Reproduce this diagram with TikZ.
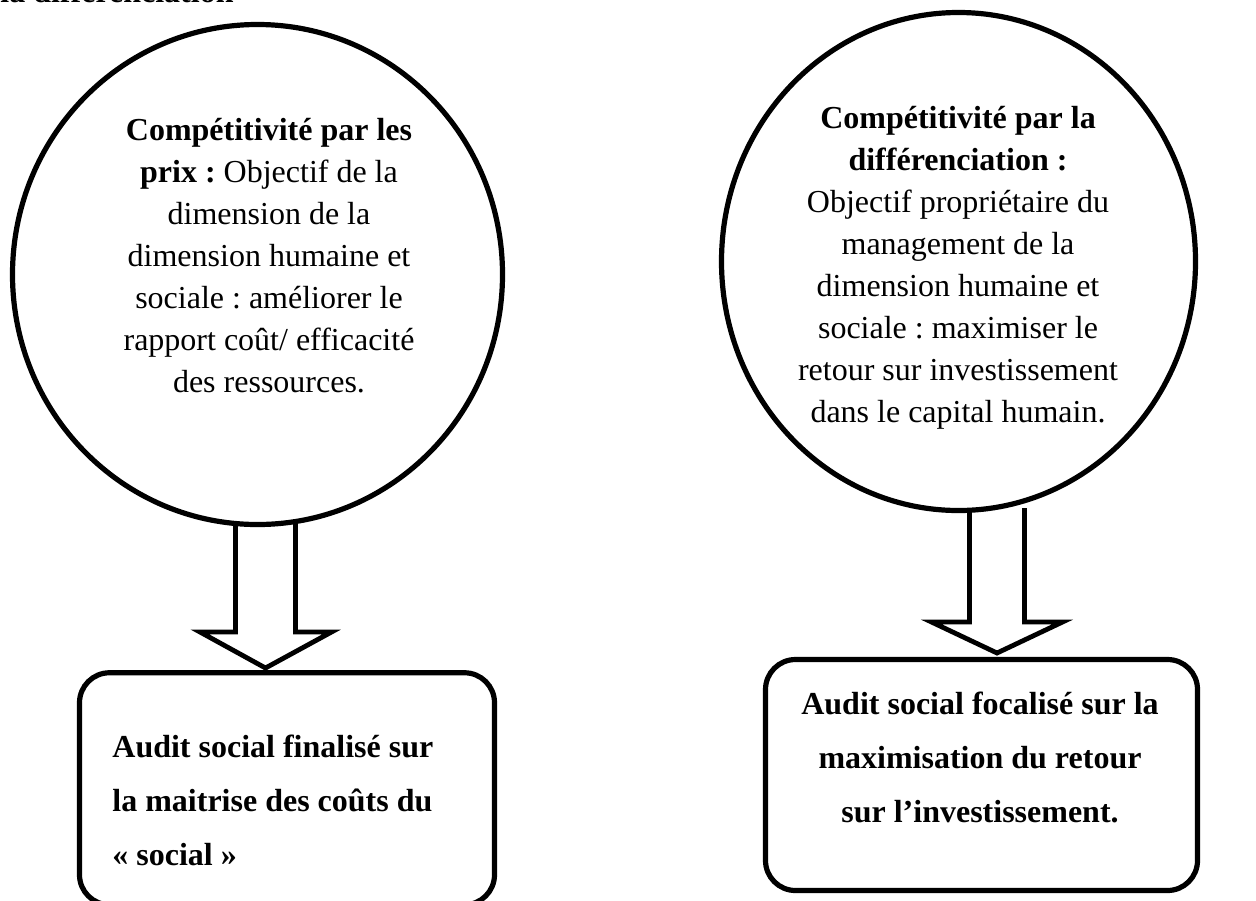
\documentclass[tikz,border=0pt]{standalone}
\usepackage{fontspec}
\setmainfont{Liberation Serif}
\frenchspacing
\usetikzlibrary{shapes.geometric}
\begin{document}
\begin{tikzpicture}[x=0.5pt,y=-0.5pt,
  outline/.style={draw=black,line width=2.6pt},
  bubble/.style={outline,ellipse,inner sep=0pt},
  card/.style={outline,rectangle,rounded corners=15pt,inner sep=0pt},
  bodytext/.style={font=\fontsize{16}{21}\selectfont,align=center,inner sep=0pt},
  cardtext/.style={font=\fontsize{16}{27}\selectfont\bfseries,inner sep=0pt},
  hollowarrow/.style={draw=black,line width=2.4pt,line join=miter},
]
\useasboundingbox (0,0) rectangle (1256,900);
\clip (0,0) rectangle (1256,900);

% heading line carried over from the previous page
\node[font=\fontsize{16}{19}\selectfont\bfseries,anchor=base west,inner sep=0pt] (prev) at (0,2.5) {la différenciation};

% tips of the two block arrows
\coordinate (t1) at (265.5,668);
\coordinate (t2) at (997,653);

% block arrows
\draw[hollowarrow] (t1) ++(-30,-146) -- ++(0,110) -- ++(-35.5,0) -- (t1)
  -- ++(66,-36) -- ++(-36,0) -- ++(0,-110);
\draw[hollowarrow] (t2) ++(-27.5,-145) -- ++(0,114) -- ++(-38,0) -- (t2)
  -- ++(65.5,-31) -- ++(-38,0) -- ++(0,-114);

% circles
\node[bubble,minimum width=245pt,minimum height=250pt] (c1) at (257.5,274.5) {};
\node[bubble,minimum width=237pt,minimum height=249pt] (c2) at (958.5,261.5) {};

% circle texts, anchored on the baseline of their last line
\node[bodytext,anchor=base] (c1text) at (269,392) {%
  \textbf{Compétitivité par les}\\
  \textbf{prix :} Objectif de la\\
  dimension de la\\
  dimension humaine et\\
  sociale : améliorer le\\
  rapport coût/ efficacité\\
  des ressources.};

\node[bodytext,anchor=base] (c2text) at (958,422) {%
  \textbf{Compétitivité par la}\\
  \textbf{différenciation :}\\
  Objectif propriétaire du\\
  management de la\\
  dimension humaine et\\
  sociale : maximiser le\\
  retour sur investissement\\
  dans le capital humain.};

% rounded boxes
\node[card,minimum width=207.5pt,minimum height=116pt] (b1) at (287,788.75) {};
\node[card,minimum width=216pt,minimum height=115.5pt] (b2) at (981.5,775) {};

\node[cardtext,align=left,anchor=base west] (b1text) at (112,865) {%
  Audit social finalisé sur\\
  la maitrise des coûts du\\
  «~social~»};

\node[cardtext,align=center,anchor=base] (b2text) at (980,822) {%
  Audit social focalisé sur la\\
  maximisation du retour\\
  sur l’investissement.};
\end{tikzpicture}
\end{document}
